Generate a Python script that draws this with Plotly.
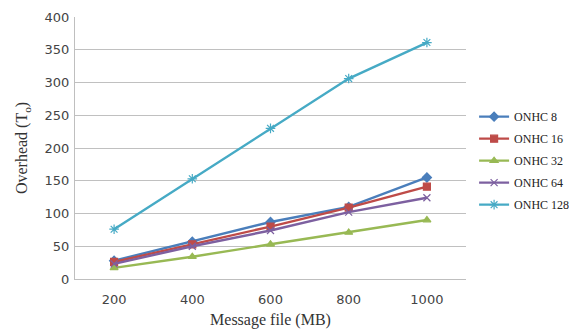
import plotly.graph_objects as go

categories = ["200", "400", "600", "800", "1000"]
onhc8 = [28, 57, 87, 110, 155]
onhc16 = [26, 53, 80, 109, 141]
onhc32 = [17, 34, 53, 71, 90]
onhc64 = [23, 50, 74, 102, 124]
onhc128 = [76, 153, 230, 306, 361]
y_ticks = [0, 50, 100, 150, 200, 250, 300, 350, 400]

series = [
    ("ONHC 8", onhc8, "#4A7EBB", "diamond", 7),
    ("ONHC 16", onhc16, "#BE4B48", "square", 7),
    ("ONHC 32", onhc32, "#98B954", "triangle-up", 7),
    ("ONHC 64", onhc64, "#7D60A0", "x-thin-open", 7),
    ("ONHC 128", onhc128, "#46AAC5", "asterisk-open", 8),
]

fig = go.Figure()
for name, vals, color, sym, size in series:
    fig.add_trace(go.Scatter(
        x=categories, y=vals, name=name, legendgroup=name,
        mode="lines+markers",
        line=dict(color=color, width=2.4),
        marker=dict(symbol=sym, size=size, color=color,
                    line=dict(color=color, width=1.2)),
    ))

# page body has an 8px margin, so the figure is sized/offset to compensate
fig.update_layout(
    width=569, height=324,
    margin=dict(l=67, r=0, t=9, b=53, autoexpand=False),
    paper_bgcolor="white", plot_bgcolor="white",
    font=dict(family="Liberation Serif", size=13, color="#333333"),
    showlegend=True,
    legend=dict(x=0.795, y=0.675, xanchor="left", yanchor="top",
                font=dict(family="Liberation Serif", size=12, color="#222222"),
                tracegroupgap=3, itemwidth=30, bgcolor="rgba(0,0,0,0)"),
    xaxis=dict(
        type="category", showgrid=False, domain=[0, 391 / 502],
        range=[-0.5, 4.5], automargin=False,
        showline=True, linecolor="#BFBFBF", linewidth=1,
        ticks="outside", ticklen=8, tickcolor="rgba(0,0,0,0)",
        tickfont=dict(family="DejaVu Sans", size=13, color="#444444"),
        title=dict(text="Message file (MB)", standoff=8,
                   font=dict(family="Liberation Serif", size=16, color="#333333")),
    ),
    yaxis=dict(
        range=[0, 400], tickvals=y_ticks, automargin=False,
        showgrid=True, gridcolor="#C0C0C0", gridwidth=1,
        showline=True, linecolor="#BFBFBF", linewidth=1,
        zeroline=False,
        ticks="outside", ticklen=2, tickcolor="rgba(0,0,0,0)",
        tickfont=dict(family="DejaVu Sans", size=13, color="#444444"),
        title=dict(text="Overhead (T<sub>o</sub>)", standoff=12,
                   font=dict(family="Liberation Serif", size=16, color="#333333")),
    ),
)

fig.write_html("out.html")
